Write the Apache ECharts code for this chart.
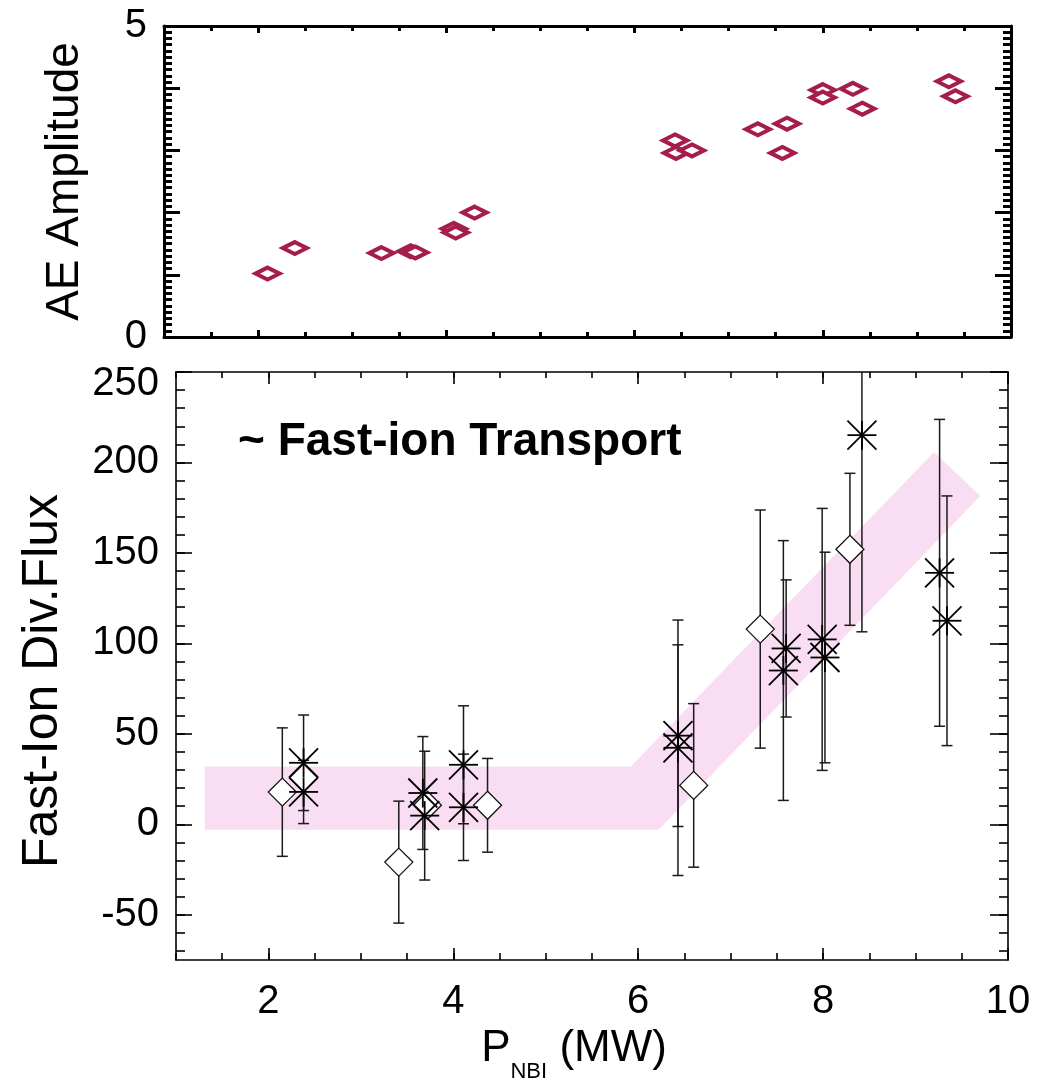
<!DOCTYPE html>
<html><head><meta charset="utf-8">
<script src="https://cdn.jsdelivr.net/npm/echarts@6/dist/echarts.min.js"></script>
<style>html,body{margin:0;padding:0;background:#fff}#c{width:1041px;height:1078px}</style>
</head><body><div id="c"></div>
<script>
// ---------- data ----------
// Top panel: AE amplitude vs P_NBI
const ampX = [2.10, 2.39, 3.31, 3.62, 3.67, 4.08, 4.10, 4.30, 6.43, 6.44, 6.61, 7.31, 7.62, 7.57, 8.00, 8.00, 8.32, 8.42, 9.34, 9.41];
const ampY = [1.02, 1.43, 1.35, 1.38, 1.36, 1.74, 1.68, 2.00, 3.16, 2.96, 3.00, 3.34, 3.43, 2.96, 3.97, 3.85, 3.99, 3.67, 4.11, 3.87];
// Bottom panel: asterisk points (value, error)
const starX   = [2.38, 2.38, 3.67, 3.69, 4.11, 4.11, 6.43, 6.43, 7.60, 7.57, 7.99, 8.02, 8.42, 9.26, 9.34];
const starY   = [34.0, 17.9, 17.3, 4.8, 32.9, 9.4, 49.0, 42.3, 97.2, 85.0, 102.2, 92.2, 215.1, 139.0, 112.5];
const starErr = [26.4, 17.5, 31.2, 35.6, 32.6, 29.4, 50.2, 70.6, 37.9, 71.8, 72.4, 58.2, 108.7, 84.8, 69.0];
// Bottom panel: open diamond points (value, error; 0 = no visible bar)
const diaX   = [2.15, 2.38, 3.41, 3.72, 4.37, 6.60, 7.32, 8.29];
const diaY   = [17.8, 25.7, -20.9, 10.5, 10.5, 21.5, 107.9, 152.0];
const diaErr = [35.5, 0, 33.7, 0, 25.9, 45.2, 65.8, 42.0];
// Pink trend band outline
const bandX = [1.31, 5.92, 9.20, 9.70, 6.22, 1.31];
const bandY = [32, 32, 205.8, 181.4, -3, -3];
// Tick labels
const xTickLabels = [2, 4, 6, 8, 10];
const ampTickLabels = [0, 5];
const fluxTickLabels = [-50, 0, 50, 100, 150, 200, 250];

// ---------- helpers ----------
const FONT = '"Liberation Sans", Arial, Helvetica, sans-serif';
function range(a, b, step) { const r = []; for (let v = a; v <= b + 1e-9; v += step) r.push(Math.round(v * 1000) / 1000); return r; }
const X_MIN = 1, X_MAX = 10, A_MIN = 0, A_MAX = 5, F_MIN = -75, F_MAX = 250;

function pairAxes(grid, pos, min, max, major, minor, majLen, minLen, lw, labelCfg) {
  const base = { type: 'value', gridIndex: grid, min: min, max: max, position: pos, splitLine: { show: false } };
  const a1 = Object.assign({}, base, {
    axisLine: { show: true, onZero: false, lineStyle: { color: '#000', width: lw } },
    axisTick: { show: true, inside: true, length: majLen, customValues: major, lineStyle: { color: '#000', width: lw } },
    axisLabel: labelCfg || { show: false }
  });
  const a2 = Object.assign({}, base, {
    axisLine: { show: false, onZero: false },
    axisTick: { show: true, inside: true, length: minLen, customValues: minor, lineStyle: { color: '#000', width: lw } },
    axisLabel: { show: false }
  });
  return [a1, a2];
}

const xMajor = range(2, 10, 2), xMinor = range(1, 10, 0.5);
const aMajor = range(0, 5, 1), aMinor = range(0, 5, 0.1);
const fMajor = range(-50, 250, 50), fMinor = range(-70, 250, 10);

const xLabelCfg = { show: true, customValues: xTickLabels, margin: 22, fontSize: 40, color: '#000', fontFamily: FONT };
const ampLabelCfg = { show: true, customValues: ampTickLabels, margin: 17, fontSize: 40, color: '#000', fontFamily: FONT };
const fluxLabelCfg = {
  show: true, customValues: fluxTickLabels, margin: 17, fontSize: 40, color: '#000', fontFamily: FONT,
  formatter: function (v) { return v === 250 ? '{t|' + v + '}' : '{n|' + v + '}'; },
  rich: { t: { fontSize: 40, fontFamily: FONT, color: '#000', padding: [24, 0, 0, 0] }, n: { fontSize: 40, fontFamily: FONT, color: '#000' } }
};

const xAxes = [].concat(
  pairAxes(0, 'bottom', X_MIN, X_MAX, xMajor, xMinor, 7, 5, 3, null),
  pairAxes(0, 'top', X_MIN, X_MAX, xMajor, xMinor, 7, 5, 3, null),
  pairAxes(1, 'bottom', X_MIN, X_MAX, xMajor, xMinor, 12, 7, 1.6, xLabelCfg),
  pairAxes(1, 'top', X_MIN, X_MAX, xMajor, xMinor, 12, 6, 1.6, null)
);
const yAxes = [].concat(
  pairAxes(0, 'left', A_MIN, A_MAX, aMajor, aMinor, 16, 8, 3, ampLabelCfg),
  pairAxes(0, 'right', A_MIN, A_MAX, aMajor, aMinor, 16, 8, 3, null),
  pairAxes(1, 'left', F_MIN, F_MAX, fMajor, fMinor, 16, 9, 1.6, fluxLabelCfg),
  pairAxes(1, 'right', F_MIN, F_MAX, fMajor, fMinor, 18, 9, 1.6, null)
);
// axis names
yAxes[0].name = 'AE Amplitude';
yAxes[0].nameLocation = 'middle';
yAxes[0].nameGap = 76;
yAxes[0].nameTextStyle = { fontSize: 46, color: '#000', fontFamily: FONT };
yAxes[4].name = 'Fast-Ion Div.Flux';
yAxes[4].nameLocation = 'middle';
yAxes[4].nameGap = 108;
yAxes[4].nameTextStyle = { fontSize: 50, color: '#000', fontFamily: FONT, padding: [0, 30, 0, 0] };
xAxes[4].name = '{p|P}{s|NBI}{p| (MW)}';
xAxes[4].nameLocation = 'middle';
xAxes[4].nameGap = 41;
xAxes[4].nameTextStyle = {
  padding: [0, 36, 0, 0],
  rich: {
    p: { fontSize: 44, lineHeight: 48, verticalAlign: 'top', color: '#000', fontFamily: FONT },
    s: { fontSize: 22, lineHeight: 22, verticalAlign: 'top', padding: [34, 0, 0, 0], color: '#000', fontFamily: FONT }
  }
};

function clampF(v) { return Math.max(F_MIN, Math.min(F_MAX, v)); }
function errRender(params, api) {
  const x = api.value(0), y = api.value(1), e = api.value(2);
  if (!(e > 0)) return null;
  const hiV = y + e, loV = y - e;
  const hi = api.coord([x, clampF(hiV)]), lo = api.coord([x, clampF(loV)]);
  const cap = 5.5;
  const st = { stroke: '#1a1a1a', lineWidth: 1.5 };
  const ch = [{ type: 'line', shape: { x1: hi[0], y1: hi[1], x2: lo[0], y2: lo[1] }, style: st }];
  if (hiV <= F_MAX) ch.push({ type: 'line', shape: { x1: hi[0] - cap, y1: hi[1], x2: hi[0] + cap, y2: hi[1] }, style: st });
  if (loV >= F_MIN) ch.push({ type: 'line', shape: { x1: lo[0] - cap, y1: lo[1], x2: lo[0] + cap, y2: lo[1] }, style: st });
  return { type: 'group', children: ch };
}
function starRender(params, api) {
  const c = api.coord([api.value(0), api.value(1)]);
  const r = 14.5, st = { stroke: '#000', lineWidth: 1.8 };
  const L = (x1, y1, x2, y2) => ({ type: 'line', shape: { x1: x1, y1: y1, x2: x2, y2: y2 }, style: st });
  return { type: 'group', children: [
    L(c[0] - r, c[1], c[0] + r, c[1]), L(c[0], c[1] - r, c[0], c[1] + r),
    L(c[0] - r, c[1] - r, c[0] + r, c[1] + r), L(c[0] - r, c[1] + r, c[0] + r, c[1] - r)
  ] };
}
function bandRender(params, api) {
  if (params.dataIndex !== 0) return null;
  const pts = bandX.map((x, i) => api.coord([x, bandY[i]]));
  return { type: 'polygon', shape: { points: pts }, style: { fill: '#f9ddf2' } };
}

const starData = starX.map((x, i) => [x, starY[i], starErr[i]]);
const diaData = diaX.map((x, i) => [x, diaY[i], diaErr[i]]);
const bandData = bandX.map((x, i) => [x, bandY[i]]);
const ampData = ampX.map((x, i) => [x, ampY[i]]);

const option = {
  animation: false,
  backgroundColor: '#fff',
  title: {
    text: '~ Fast-ion Transport', left: 238, top: 419, padding: 0,
    textStyle: { fontSize: 46, fontWeight: 'bold', color: '#000', fontFamily: FONT }
  },
  grid: [
    { left: 164, top: 26, width: 847, height: 311, containLabel: false, outerBoundsMode: 'none' },
    { left: 176, top: 372, width: 832, height: 588, containLabel: false, outerBoundsMode: 'none' }
  ],
  xAxis: xAxes,
  yAxis: yAxes,
  series: [
    { type: 'scatter', xAxisIndex: 0, yAxisIndex: 0, data: ampData, symbol: 'diamond', symbolSize: [24, 12],
      itemStyle: { color: '#fff', borderColor: '#a51e4a', borderWidth: 4.5, opacity: 1 }, z: 5 },
    { type: 'custom', xAxisIndex: 4, yAxisIndex: 4, data: bandData, renderItem: bandRender, z: 1, silent: true },
    { type: 'custom', xAxisIndex: 4, yAxisIndex: 4, data: diaData, renderItem: errRender, z: 2 },
    { type: 'custom', xAxisIndex: 4, yAxisIndex: 4, data: starData, renderItem: errRender, z: 2 },
    { type: 'scatter', xAxisIndex: 4, yAxisIndex: 4, data: diaData, symbol: 'diamond', symbolSize: 28,
      itemStyle: { color: '#fff', borderColor: '#111', borderWidth: 1.3, opacity: 1 }, z: 3 },
    { type: 'custom', xAxisIndex: 4, yAxisIndex: 4, data: starData, renderItem: starRender, z: 4 }
  ]
};
const chart = echarts.init(document.getElementById('c'), null, { renderer: 'canvas' });
chart.setOption(option);
</script></body></html>
